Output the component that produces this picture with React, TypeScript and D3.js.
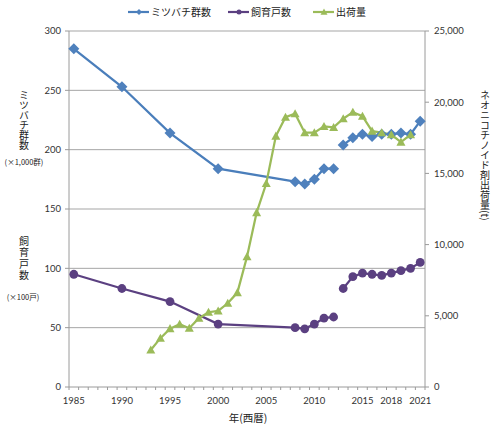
import React from "react";
import * as d3 from "d3";

const beeYears = [1985, 1990, 1995, 2000, 2008, 2009, 2010, 2011, 2012, 2013, 2014, 2015, 2016, 2017, 2018, 2019, 2020, 2021];
const beeColonies = [285, 253, 214, 184, 173, 171, 175, 184, 184, 204, 210, 213, 211, 213, 213, 214, 213, 224];
const farmYears = [1985, 1990, 1995, 2000, 2008, 2009, 2010, 2011, 2012, 2013, 2014, 2015, 2016, 2017, 2018, 2019, 2020, 2021];
const farmHouseholds = [95, 83, 72, 53, 50, 49, 53, 58, 59, 83, 93, 96, 95, 94, 96, 98, 100, 105];
const shipYears = [1993, 1994, 1995, 1996, 1997, 1998, 1999, 2000, 2001, 2002, 2003, 2004, 2005, 2006, 2007, 2008, 2009, 2010, 2011, 2012, 2013, 2014, 2015, 2016, 2017, 2018, 2019, 2020];
const shipments = [2600, 3430, 4100, 4410, 4130, 4830, 5250, 5340, 5880, 6630, 9150, 12250, 14290, 17620, 18950, 19190, 17860, 17860, 18300, 18230, 18840, 19300, 19020, 17970, 17860, 17720, 17200, 17720];
const seriesBreakYear = 2013;
const allYears = d3.range(1985, 2022);
const xTickYears = [1985, 1990, 1995, 2000, 2005, 2010, 2015, 2018, 2021];
const leftTicks = [0, 50, 100, 150, 200, 250, 300];
const rightTicks = [0, 5000, 10000, 15000, 20000, 25000];

const W = 496, H = 436;
const left = 69, right = 425, top = 31, bottom = 387;

const BLUE = "#4a7ebb";
const BLUE_M = "#4f81bd";
const PURPLE = "#5b4081";
const GREEN = "#9bbb59";
const GRID = "#a5a5a5";
const AXIS = "#9a9a9a";
const NUM_FONT = "Lato, 'Open Sans', sans-serif";
const JP_FONT = "'Noto Sans CJK JP', sans-serif";

const x = d3.scaleBand<number>().domain(allYears).range([left, right]).padding(0);
const cx = (yr: number) => (x(yr) as number) + x.bandwidth() / 2;
const yL = d3.scaleLinear().domain([0, 300]).range([bottom, top]);
const yR = d3.scaleLinear().domain([0, 25000]).range([bottom, top]);

type Pt = { yr: number; v: number };
const zip = (ys: number[], vs: number[]): Pt[] => ys.map((yr, i) => ({ yr, v: vs[i] }));
const split = (pts: Pt[]) => [pts.filter((p) => p.yr < seriesBreakYear), pts.filter((p) => p.yr >= seriesBreakYear)];

const bee = zip(beeYears, beeColonies);
const farm = zip(farmYears, farmHouseholds);
const ship = zip(shipYears, shipments);

const lineL = d3.line<Pt>().x((d) => cx(d.yr)).y((d) => yL(d.v));
const lineR = d3.line<Pt>().x((d) => cx(d.yr)).y((d) => yR(d.v));

const diamond = (r: number) => `M0,${-r}L${r},0L0,${r}L${-r},0Z`;
const triangle = (r: number) => `M0,${-r}L${r},${r * 0.8}L${-r},${r * 0.8}Z`;

function Legend() {
  const items = [
    { x0: 128, label: "ミツバチ群数", color: BLUE, m: "d" },
    { x0: 228, label: "飼育戸数", color: PURPLE, m: "c" },
    { x0: 313, label: "出荷量", color: GREEN, m: "t" },
  ];
  const ly = 12;
  return (
    <g>
      {items.map((it) => (
        <g key={it.label}>
          <line x1={it.x0} x2={it.x0 + 21} y1={ly} y2={ly} stroke={it.color} strokeWidth={2.2} />
          {it.m === "d" && <path d={diamond(3)} transform={`translate(${it.x0 + 11},${ly})`} fill={BLUE_M} />}
          {it.m === "c" && <circle cx={it.x0 + 11} cy={ly} r={2.5} fill={PURPLE} />}
          {it.m === "t" && <path d={triangle(3.5)} transform={`translate(${it.x0 + 11},${ly})`} fill={GREEN} />}
          <text x={it.x0 + 23} y={ly} dy="0.35em" fontSize={10} fontFamily={JP_FONT} fill="#222">{it.label}</text>
        </g>
      ))}
    </g>
  );
}

export default function App() {
  return (
    <svg width={W} height={H} style={{ position: "absolute", left: 0, top: 0, background: "#fff" }}>
      <rect width={W} height={H} fill="#fff" />
      <Legend />
      {leftTicks.filter((t) => t > 0).map((t) => (
        <line key={t} x1={left} x2={right} y1={yL(t)} y2={yL(t)} stroke={GRID} strokeWidth={1} />
      ))}
      <line x1={left} x2={left} y1={top} y2={bottom} stroke={AXIS} />
      <line x1={right} x2={right} y1={top} y2={bottom} stroke={AXIS} />
      <line x1={left} x2={right} y1={bottom} y2={bottom} stroke={AXIS} />
      {leftTicks.map((t) => (
        <g key={t}>
          <line x1={left - 4} x2={left} y1={yL(t)} y2={yL(t)} stroke={AXIS} />
          <text x={left - 8} y={yL(t)} dy="0.35em" textAnchor="end" fontSize={9.5} fontFamily={NUM_FONT} fill="#333">{t}</text>
        </g>
      ))}
      {rightTicks.map((t) => (
        <g key={t}>
          <line x1={right} x2={right + 4} y1={yR(t)} y2={yR(t)} stroke={AXIS} />
          <text x={right + 9} y={yR(t)} dy="0.35em" textAnchor="start" fontSize={9.5} fontFamily={NUM_FONT} fill="#333">{d3.format(",")(t)}</text>
        </g>
      ))}
      {allYears.concat([2022]).map((yr) => {
        const xx = yr === 2022 ? right : (x(yr) as number);
        return <line key={yr} x1={xx} x2={xx} y1={bottom} y2={bottom + 3} stroke={AXIS} />;
      })}
      {xTickYears.map((yr) => (
        <text key={yr} x={cx(yr)} y={bottom + 14} dy="0.35em" textAnchor="middle" fontSize={9.5} fontFamily={NUM_FONT} fill="#333">{yr}</text>
      ))}
      <text x={24} y={90} style={{ writingMode: "vertical-rl" }} fontSize={10} fontFamily={JP_FONT} fill="#222">ミツバチ群数</text>
      <text x={24} y={162} dy="0.35em" textAnchor="middle" fontSize={7.5} fontFamily={JP_FONT} fill="#222">(×1,000群)</text>
      <text x={24} y={236} style={{ writingMode: "vertical-rl", letterSpacing: "1.5px" }} fontSize={10} fontFamily={JP_FONT} fill="#222">飼育戸数</text>
      <text x={23} y={297} dy="0.35em" textAnchor="middle" fontSize={7.5} fontFamily={JP_FONT} fill="#222">(×100戸)</text>
      <text x={485} y={90} style={{ writingMode: "vertical-rl" }} fontSize={10} fontFamily={JP_FONT} fill="#222">ネオニコチノイド剤出荷量(t)</text>
      <text x={248} y={418} dy="0.35em" textAnchor="middle" fontSize={10.5} fontFamily={JP_FONT} fill="#222">年(西暦)</text>
      {split(bee).map((seg, i) => (
        <path key={i} d={lineL(seg) || ""} fill="none" stroke={BLUE} strokeWidth={2.25} />
      ))}
      {split(farm).map((seg, i) => (
        <path key={i} d={lineL(seg) || ""} fill="none" stroke={PURPLE} strokeWidth={2.25} />
      ))}
      <path d={lineR(ship) || ""} fill="none" stroke={GREEN} strokeWidth={2.25} />
      {bee.map((d) => (
        <path key={d.yr} d={diamond(5.5)} transform={`translate(${cx(d.yr)},${yL(d.v)})`} fill={BLUE_M} />
      ))}
      {farm.map((d) => (
        <circle key={d.yr} cx={cx(d.yr)} cy={yL(d.v)} r={4.4} fill={PURPLE} />
      ))}
      {ship.map((d) => (
        <path key={d.yr} d={triangle(4.5)} transform={`translate(${cx(d.yr)},${yR(d.v)})`} fill={GREEN} />
      ))}
    </svg>
  );
}
